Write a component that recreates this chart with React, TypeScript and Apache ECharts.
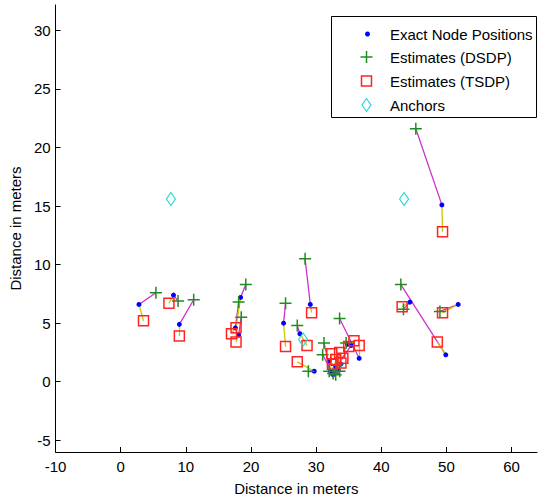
import React, { useEffect, useRef } from "react";
import * as echarts from "echarts";

// Exact node positions
const exactX = [2.8, 8.1, 9.0, 18.4, 17.6, 18.1, 25.0, 29.1, 27.5, 29.7, 32.2, 32.6, 33.4, 33.0, 34.8, 35.4, 36.6, 32.0, 33.8, 44.4, 49.9, 51.8, 49.3];
const exactY = [6.6, 7.4, 4.9, 7.2, 4.6, 4.0, 5.0, 6.6, 4.1, 0.9, 0.9, 0.6, 1.0, 1.3, 3.2, 3.1, 2.0, 1.8, 1.5, 6.8, 2.3, 6.6, 15.1];
// DSDP estimates
const dsdpX = [5.4, 8.8, 11.2, 19.2, 18.1, 18.5, 25.3, 28.3, 27.1, 28.8, 31.2, 31.0, 32.6, 33.6, 34.6, 33.2, 33.6, 32.0, 33.0, 43.4, 43.0, 49.0, 45.3];
const dsdpY = [7.6, 6.9, 7.0, 8.3, 6.8, 5.5, 6.7, 10.5, 4.8, 0.9, 3.3, 2.3, 0.7, 0.9, 3.3, 1.4, 5.4, 0.9, 0.6, 6.2, 8.3, 6.0, 21.6];
// TSDP estimates
const tsdpX = [3.5, 7.4, 9.0, 17.7, 17.0, 17.7, 25.3, 29.3, 28.6, 27.1, 32.4, 33.0, 33.6, 34.1, 35.0, 35.8, 36.6, 32.5, 33.8, 43.2, 48.6, 49.4, 49.4];
const tsdpY = [5.2, 6.7, 3.9, 4.6, 4.1, 3.4, 3.0, 5.9, 3.1, 1.7, 2.4, 1.9, 2.5, 2.0, 3.0, 3.5, 3.1, 1.5, 1.6, 6.4, 3.4, 5.9, 12.8];
// Anchors
const anchorX = [7.7, 43.5, 28.0];
const anchorY = [15.6, 15.6, 3.6];

const xTicks = [-10, 0, 10, 20, 30, 40, 50, 60];
const yTicks = [-5, 0, 5, 10, 15, 20, 25, 30];
const legendLabels = ["Exact Node Positions", "Estimates (DSDP)", "Estimates (TSDP)", "Anchors"];
const axisTitle = "Distance in meters";

const FONT = "'Liberation Sans', Arial, sans-serif";
const BLUE = "#0000ff";
const GREEN = "#1e8c1e";
const RED = "#ff2424";
const CYAN = "#30d4d8";
const MAGENTA = "#cc33cc";
const YELLOW = "#c8c800";
const PLUS = "path://M5.25,0H6.75V5.25H12V6.75H6.75V12H5.25V6.75H0V5.25H5.25Z";
const DIAMOND = "path://M5,0L10,7L5,14L0,7Z";

export default function App() {
  const ref = useRef<HTMLDivElement>(null);
  useEffect(() => {
    const chart = echarts.init(ref.current!, null, { renderer: "svg" });
    const axisCommon = {
      type: "value" as const,
      splitLine: { show: false },
      axisLine: { show: true, onZero: false, lineStyle: { color: "#000", width: 1 } },
      nameLocation: "middle" as const,
      name: axisTitle,
      nameTextStyle: { color: "#000", fontSize: 15, fontFamily: FONT },
    };
    const legendX = 331;
    const legendY = 16;
    const rowY = [34, 57, 81, 105];
    const iconX = 366.5;
    const option: any = {
      animation: false,
      backgroundColor: "#fff",
      grid: { left: 55, right: 2, top: 5, bottom: 48 },
      xAxis: {
        ...axisCommon,
        min: -10,
        max: 63.9,
        nameGap: 29,
        axisTick: { show: true, inside: true, length: 5, customValues: xTicks, lineStyle: { color: "#000" } },
        axisLabel: { customValues: xTicks, color: "#000", fontSize: 15, fontFamily: FONT, margin: 7 },
      },
      yAxis: {
        ...axisCommon,
        min: -6,
        max: 32.17,
        nameGap: 27,
        axisTick: { show: true, inside: true, length: 5, customValues: yTicks, lineStyle: { color: "#000" } },
        axisLabel: { customValues: yTicks, color: "#000", fontSize: 15, fontFamily: FONT, margin: 5 },
      },
      series: [
        {
          type: "lines",
          coordinateSystem: "cartesian2d",
          name: "DSDP error",
          silent: true,
          lineStyle: { color: MAGENTA, width: 1.3, opacity: 1 },
          data: exactX.map((x, i) => ({ coords: [[x, exactY[i]], [dsdpX[i], dsdpY[i]]] })),
        },
        {
          type: "lines",
          coordinateSystem: "cartesian2d",
          name: "TSDP error",
          silent: true,
          lineStyle: { color: YELLOW, width: 1.3, opacity: 1 },
          data: exactX.map((x, i) => ({ coords: [[x, exactY[i]], [tsdpX[i], tsdpY[i]]] })),
        },
        {
          type: "scatter",
          name: legendLabels[0],
          symbol: "circle",
          symbolSize: 5,
          itemStyle: { color: BLUE, opacity: 1 },
          data: exactX.map((x, i) => [x, exactY[i]]),
        },
        {
          type: "scatter",
          name: legendLabels[1],
          symbol: PLUS,
          symbolSize: 12,
          itemStyle: { color: GREEN, opacity: 1 },
          data: dsdpX.map((x, i) => [x, dsdpY[i]]),
        },
        {
          type: "scatter",
          name: legendLabels[2],
          symbol: "rect",
          symbolSize: 10,
          itemStyle: { color: "rgba(255,255,255,0)", borderColor: RED, borderWidth: 1.5, opacity: 1 },
          data: tsdpX.map((x, i) => [x, tsdpY[i]]),
        },
        {
          type: "scatter",
          name: legendLabels[3],
          symbol: DIAMOND,
          symbolSize: [9, 13],
          itemStyle: { color: "rgba(255,255,255,0)", borderColor: CYAN, borderWidth: 1.2, opacity: 1 },
          data: anchorX.map((x, i) => [x, anchorY[i]]),
        },
      ],
      graphic: [
        {
          type: "group",
          z: 100,
          children: [
            {
              type: "rect",
              shape: { x: legendX + 0.5, y: legendY + 0.5, width: 205, height: 101 },
              style: { fill: "#fff", stroke: "#000", lineWidth: 1 },
            },
            { type: "circle", shape: { cx: iconX + 1, cy: rowY[0], r: 2.5 }, style: { fill: BLUE } },
            { type: "rect", shape: { x: iconX - 6, y: rowY[1] - 0.75, width: 12, height: 1.5 }, style: { fill: GREEN } },
            { type: "rect", shape: { x: iconX - 0.75, y: rowY[1] - 6, width: 1.5, height: 12 }, style: { fill: GREEN } },
            {
              type: "rect",
              shape: { x: iconX - 5, y: rowY[2] - 5, width: 10, height: 10 },
              style: { fill: "none", stroke: RED, lineWidth: 1.5 },
            },
            {
              type: "polygon",
              shape: { points: [[iconX, rowY[3] - 6.5], [iconX + 4.5, rowY[3]], [iconX, rowY[3] + 6.5], [iconX - 4.5, rowY[3]]] },
              style: { fill: "none", stroke: CYAN, lineWidth: 1.2 },
            },
            ...legendLabels.map((t, i) => ({
              type: "text",
              x: 390,
              y: rowY[i],
              style: { text: t, fill: "#000", font: `15px ${FONT}`, verticalAlign: "middle", align: "left" },
            })),
          ],
        },
      ],
    };
    chart.setOption(option);
    return () => chart.dispose();
  }, []);
  return (
    <div
      ref={ref}
      style={{ position: "fixed", left: 0, top: 0, width: 539, height: 501, background: "#fff" }}
    />
  );
}
